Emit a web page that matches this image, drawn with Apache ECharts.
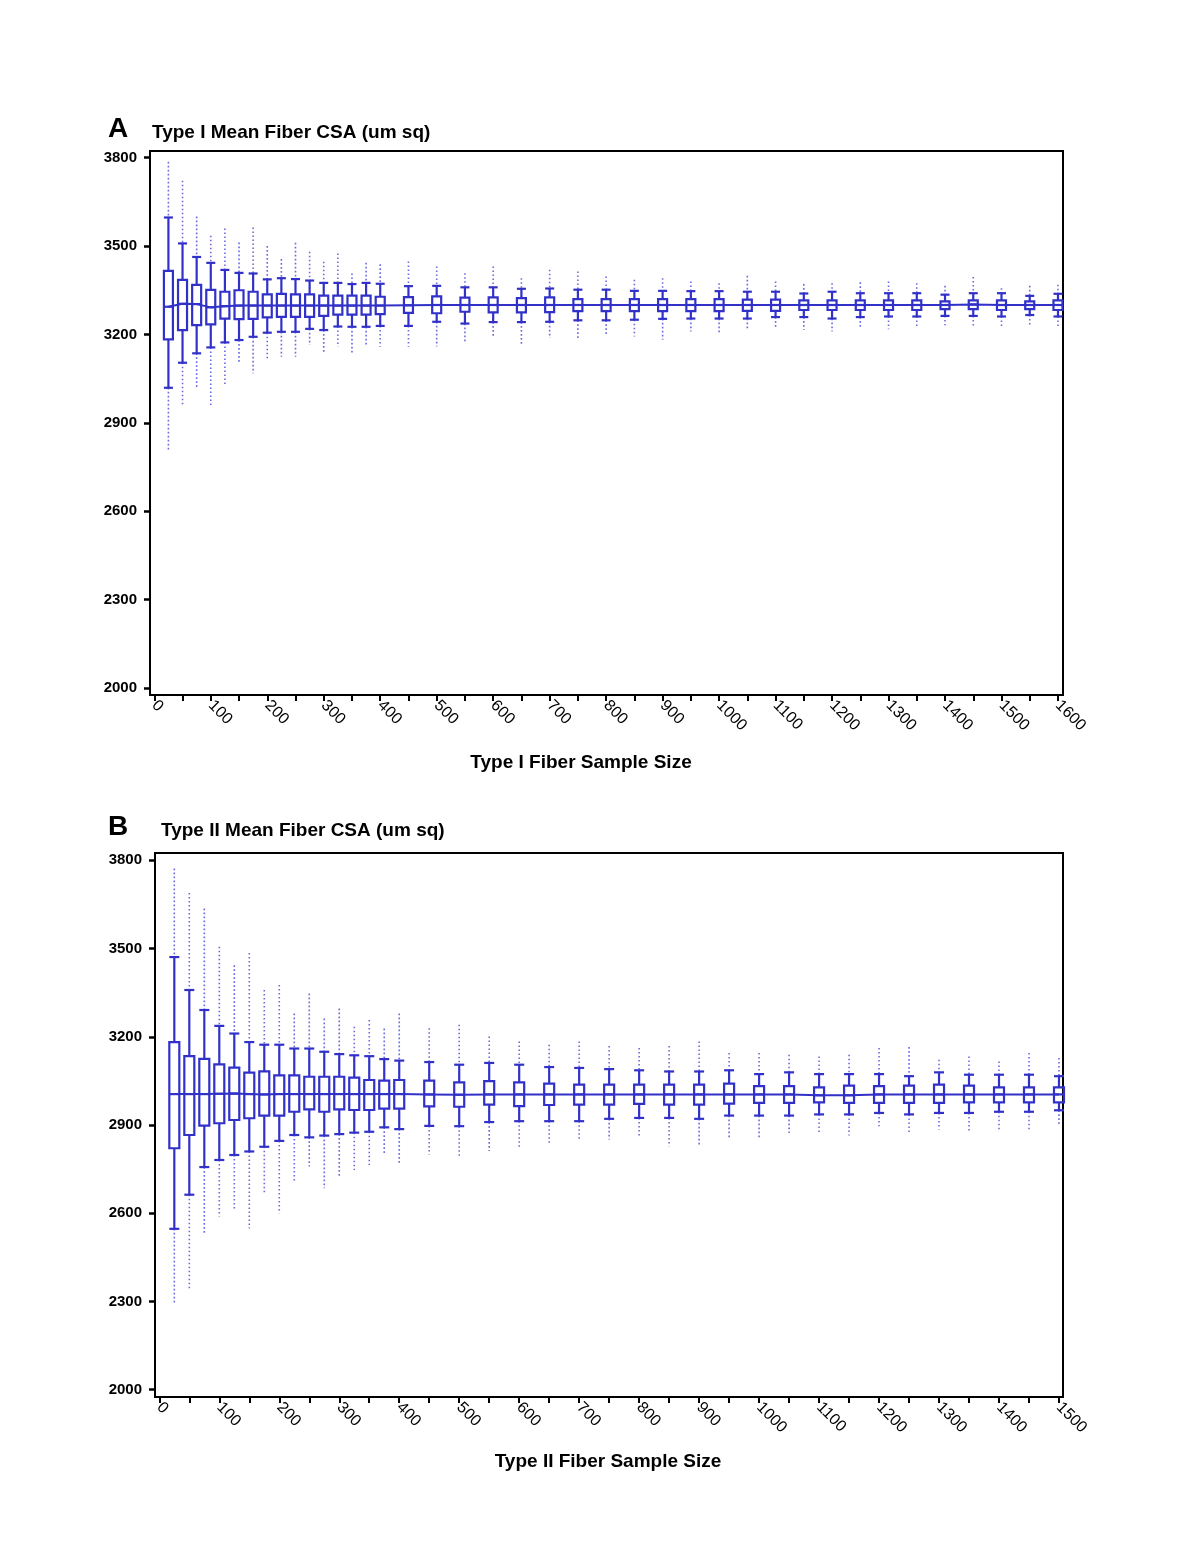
<!DOCTYPE html>
<html>
<head>
<meta charset="utf-8">
<style>
  html, body { margin: 0; padding: 0; background: #fff; }
  #chart { width: 1200px; height: 1553px; }
</style>
<script src="https://cdn.jsdelivr.net/npm/echarts@6/dist/echarts.min.js"></script>
</head>
<body>
<div id="chart"></div>
<script>
// ---------- Panel A: Type I ----------
const sizesA = [25,50,75,100,125,150,175,200,225,250,275,300,325,350,375,400,
  450,500,550,600,650,700,750,800,850,900,950,1000,1050,1100,1150,1200,1250,1300,1350,1400,1450,1500,1550,1600];
const lowWhiskA = [3019,3104,3136,3156,3173,3181,3192,3206,3209,3209,3219,3215,3227,3226,3226,3229,
  3229,3243,3237,3242,3242,3243,3248,3248,3250,3253,3254,3254,3254,3259,3259,3254,3259,3261,3261,3263,3263,3261,3266,3261];
const q1A = [3183,3215,3232,3234,3254,3252,3253,3258,3260,3260,3260,3263,3267,3267,3267,3269,
  3273,3272,3277,3275,3275,3276,3279,3279,3279,3279,3279,3279,3280,3280,3283,3283,3283,3283,3283,3286,3286,3283,3286,3283];
const medianA = [3294,3304,3303,3292,3296,3298,3298,3298,3298,3298,3298,3298,3298,3298,3298,3298,
  3299,3300,3300,3300,3300,3300,3300,3300,3300,3300,3300,3300,3300,3300,3300,3300,3300,3300,3300,3300,3302,3300,3300,3300];
const q3A = [3416,3385,3368,3351,3345,3350,3345,3336,3338,3336,3336,3332,3332,3332,3332,3328,
  3327,3329,3325,3326,3323,3326,3320,3320,3320,3320,3320,3320,3318,3318,3316,3316,3316,3316,3316,3312,3316,3316,3312,3316];
const highWhiskA = [3597,3509,3463,3443,3419,3409,3407,3387,3391,3388,3383,3375,3375,3371,3375,3372,
  3364,3365,3360,3360,3355,3356,3352,3352,3348,3348,3347,3347,3345,3345,3339,3345,3340,3340,3340,3335,3340,3340,3331,3338];
const outMinA = [2802,2955,3020,2954,3028,3107,3068,3113,3124,3124,3164,3141,3158,3136,3158,3158,
  3158,3159,3176,3191,3165,3188,3182,3201,3193,3182,3210,3205,3216,3220,3216,3210,3219,3218,3229,3231,3224,3227,3225,3220];
const outMaxA = [3786,3722,3600,3535,3560,3512,3563,3500,3456,3511,3481,3447,3475,3407,3443,3438,
  3448,3431,3408,3431,3391,3420,3414,3397,3386,3391,3380,3374,3399,3380,3371,3374,3377,3380,3374,3365,3395,3357,3365,3369];

// ---------- Panel B: Type II ----------
const sizesB = [25,50,75,100,125,150,175,200,225,250,275,300,325,350,375,400,
  450,500,550,600,650,700,750,800,850,900,950,1000,1050,1100,1150,1200,1250,1300,1350,1400,1450,1500];
const lowWhiskB = [2547,2663,2757,2781,2798,2810,2826,2846,2866,2858,2864,2869,2874,2877,2892,2886,
  2897,2896,2910,2913,2913,2913,2921,2924,2924,2921,2932,2932,2932,2936,2936,2941,2936,2941,2941,2945,2945,2950];
const q1B = [2821,2866,2898,2906,2917,2923,2932,2932,2945,2953,2945,2953,2951,2951,2956,2956,
  2963,2962,2969,2964,2968,2969,2969,2972,2969,2969,2973,2975,2975,2977,2975,2975,2975,2975,2977,2977,2977,2977];
const medianB = [3005,3005,3005,3006,3007,3005,3004,3005,3005,3005,3005,3005,3005,3005,3005,3005,
  3004,3003,3004,3004,3004,3004,3004,3004,3004,3004,3004,3004,3004,3001,3001,3004,3004,3004,3004,3004,3004,3004];
const q3B = [3182,3134,3125,3106,3095,3078,3082,3069,3069,3064,3064,3064,3061,3053,3051,3053,
  3051,3045,3049,3045,3041,3037,3037,3037,3037,3037,3041,3032,3032,3028,3034,3032,3034,3037,3034,3028,3028,3028];
const highWhiskB = [3471,3359,3291,3237,3211,3182,3173,3173,3160,3160,3149,3141,3137,3134,3124,3119,
  3114,3105,3111,3105,3097,3094,3090,3086,3082,3082,3086,3073,3079,3073,3073,3073,3066,3079,3071,3071,3071,3066];
const outMinB = [2294,2337,2527,2589,2611,2548,2668,2600,2708,2759,2685,2725,2747,2764,2798,2770,
  2800,2790,2812,2825,2834,2845,2851,2862,2828,2828,2851,2851,2873,2876,2864,2896,2868,2885,2873,2879,2885,2896];
const outMaxB = [3772,3689,3636,3506,3443,3485,3359,3376,3279,3347,3262,3296,3234,3257,3228,3279,
  3229,3241,3201,3184,3173,3184,3169,3162,3169,3184,3145,3145,3139,3133,3139,3162,3165,3122,3133,3116,3145,3128];

// ---------- Axis tick / label values ----------
const yTicks = [2000,2300,2600,2900,3200,3500,3800];
const xTicksA = [0,50,100,150,200,250,300,350,400,450,500,550,600,650,700,750,800,850,900,950,1000,1050,1100,1150,1200,1250,1300,1350,1400,1450,1500,1550,1600];
const xLabelsA = [0,100,200,300,400,500,600,700,800,900,1000,1100,1200,1300,1400,1500,1600];
const xTicksB = [0,50,100,150,200,250,300,350,400,450,500,550,600,650,700,750,800,850,900,950,1000,1050,1100,1150,1200,1250,1300,1350,1400,1450,1500];
const xLabelsB = [0,100,200,300,400,500,600,700,800,900,1000,1100,1200,1300,1400,1500];

const BLUE = '#3131c9';
const DOT = 'rgba(70,70,215,0.8)';
const FAMILY = '"Liberation Sans", Arial, sans-serif';

function rows(sizes, lw, q1, med, q3, hw, omin, omax) {
  return sizes.map((s, i) => [s, lw[i], q1[i], med[i], q3[i], hw[i], omin[i], omax[i]]);
}

function makeRender(boxW) {
  return function (params, api) {
    const x = api.value(0);
    const pLow = api.coord([x, api.value(1)]);
    const pQ1 = api.coord([x, api.value(2)]);
    const pMed = api.coord([x, api.value(3)]);
    const pQ3 = api.coord([x, api.value(4)]);
    const pHigh = api.coord([x, api.value(5)]);
    const pOMin = api.coord([x, api.value(6)]);
    const pOMax = api.coord([x, api.value(7)]);
    const cx = pMed[0];
    const h = boxW / 2;
    const solid = { stroke: BLUE, lineWidth: 2.2, fill: null };
    const dotted = { stroke: DOT, lineWidth: 1.6, lineDash: [1.6, 2.4] };
    return {
      type: 'group',
      children: [
        { type: 'line', shape: { x1: cx, y1: pOMax[1], x2: cx, y2: pHigh[1] }, style: dotted },
        { type: 'line', shape: { x1: cx, y1: pLow[1], x2: cx, y2: pOMin[1] }, style: dotted },
        { type: 'line', shape: { x1: cx, y1: pHigh[1], x2: cx, y2: pQ3[1] }, style: solid },
        { type: 'line', shape: { x1: cx, y1: pQ1[1], x2: cx, y2: pLow[1] }, style: solid },
        { type: 'line', shape: { x1: cx - h, y1: pHigh[1], x2: cx + h, y2: pHigh[1] }, style: solid },
        { type: 'line', shape: { x1: cx - h, y1: pLow[1], x2: cx + h, y2: pLow[1] }, style: solid },
        { type: 'rect', shape: { x: cx - h, y: pQ3[1], width: boxW, height: pQ1[1] - pQ3[1] }, style: { stroke: BLUE, lineWidth: 2.2, fill: 'rgba(255,255,255,0)' } },
        { type: 'line', shape: { x1: cx - h, y1: pMed[1], x2: cx + h, y2: pMed[1] }, style: solid }
      ]
    };
  };
}

const plain = v => String(v);

function xAxisDef(gridIndex, min, max, ticks, labels) {
  return {
    type: 'value', gridIndex, min, max,
    axisLine: { show: true, onZero: false, lineStyle: { color: '#000', width: 2 } },
    axisTick: { show: true, customValues: ticks, length: 6, lineStyle: { color: '#000', width: 2 } },
    axisLabel: { customValues: labels, formatter: plain, rotate: -45, fontSize: 16, color: '#000', margin: 8, fontFamily: FAMILY },
    splitLine: { show: false }
  };
}
function yAxisDef(gridIndex, min, max) {
  return {
    type: 'value', gridIndex, min, max,
    axisLine: { show: true, onZero: false, lineStyle: { color: '#000', width: 2 } },
    axisTick: { show: true, customValues: yTicks, length: 6, lineStyle: { color: '#000', width: 2.5 } },
    axisLabel: { customValues: yTicks, formatter: plain, fontSize: 15, fontWeight: 'bold', color: '#000', margin: 13, fontFamily: FAMILY },
    splitLine: { show: false }
  };
}

const font = 'bold 19px ' + FAMILY;
const bigFont = 'bold 28px ' + FAMILY;
const chart = echarts.init(document.getElementById('chart'));
chart.setOption({
  animation: false,
  backgroundColor: '#fff',
  grid: [
    { left: 150, top: 151, width: 913, height: 544, show: true, borderColor: '#000', borderWidth: 2, backgroundColor: 'transparent' },
    { left: 155, top: 853, width: 908, height: 544, show: true, borderColor: '#000', borderWidth: 2, backgroundColor: 'transparent' }
  ],
  xAxis: [
    xAxisDef(0, -7.6, 1608.9, xTicksA, xLabelsA),
    xAxisDef(1, -7.2, 1506.7, xTicksB, xLabelsB)
  ],
  yAxis: [
    yAxisDef(0, 1976.2, 3822.7),
    yAxisDef(1, 1975.2, 3824.8)
  ],
  graphic: [
    { type: 'text', x: 108, y: 129, style: { text: 'A', font: bigFont, fill: '#000', verticalAlign: 'middle' } },
    { type: 'text', x: 152, y: 133, style: { text: 'Type I Mean Fiber CSA (um sq)', font, fill: '#000', verticalAlign: 'middle' } },
    { type: 'text', x: 581, y: 763, style: { text: 'Type I Fiber Sample Size', font, fill: '#000', align: 'center', verticalAlign: 'middle' } },
    { type: 'text', x: 108, y: 827, style: { text: 'B', font: bigFont, fill: '#000', verticalAlign: 'middle' } },
    { type: 'text', x: 161, y: 831, style: { text: 'Type II Mean Fiber CSA (um sq)', font, fill: '#000', verticalAlign: 'middle' } },
    { type: 'text', x: 608, y: 1462, style: { text: 'Type II Fiber Sample Size', font, fill: '#000', align: 'center', verticalAlign: 'middle' } }
  ],
  series: [
    { type: 'line', xAxisIndex: 0, yAxisIndex: 0, data: sizesA.map((s, i) => [s, medianA[i]]), symbol: 'none', lineStyle: { color: BLUE, width: 2 }, z: 1 },
    { type: 'custom', xAxisIndex: 0, yAxisIndex: 0, renderItem: makeRender(9), data: rows(sizesA, lowWhiskA, q1A, medianA, q3A, highWhiskA, outMinA, outMaxA), z: 2 },
    { type: 'line', xAxisIndex: 1, yAxisIndex: 1, data: sizesB.map((s, i) => [s, medianB[i]]), symbol: 'none', lineStyle: { color: BLUE, width: 2 }, z: 1 },
    { type: 'custom', xAxisIndex: 1, yAxisIndex: 1, renderItem: makeRender(10), data: rows(sizesB, lowWhiskB, q1B, medianB, q3B, highWhiskB, outMinB, outMaxB), z: 2 }
  ]
});
</script>
</body>
</html>
